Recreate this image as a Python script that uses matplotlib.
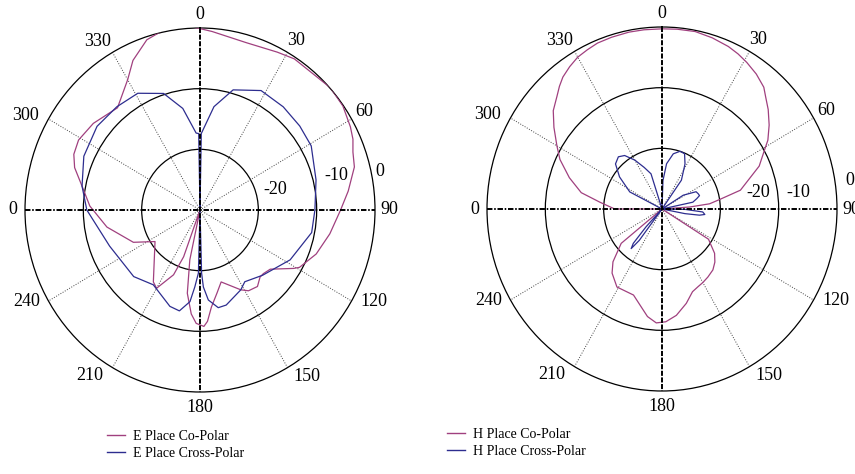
import numpy as np
import matplotlib
matplotlib.use("Agg")
import matplotlib.pyplot as plt
from matplotlib.lines import Line2D

SERIF = ["Liberation Serif", "DejaVu Serif"]
CO_COLOR = "#a0407f"
CROSS_COLOR = "#2d2d8f"

# E plane, co-polar (deg, dB)
e_co_deg = [0, 4, 16, 27, 33, 48, 55, 62, 66, 70, 75, 83, 90, 100, 110, 119, 121,
            129, 134, 137, 142, 148, 152, 163, 168, 173, 176, 178, 182, 185, 189,
            192, 195, 200, 203, 210, 214, 236, 245, 260, 272, 281, 288, 293, 299,
            308, 320, 323, 330, 335, 342, 348, 356, 360]
e_co_db = [-0.1, -0.5, -1.3, -0.8, -0.3, 0.1, -0.1, -0.8, -1.3, -2.1, -2.6, -4.4, -5.9,
           -7.4, -8.8, -10.5, -11.3, -14.5, -14.9, -14.9, -14.0, -14.3, -15.1, -17.6,
           -16.0, -13.9, -11.6, -10.8, -11.3, -12.8, -16.1, -21.6, -30.0, -21.8, -18.4,
           -15.1, -15.7, -20.7, -17.4, -13.8, -11.1, -9.4, -7.4, -6.5, -6.2, -6.8, -8.0,
           -7.3, -5.2, -2.8, -0.5, 0.3, 0.4, -0.1]

# E plane, cross-polar
e_x_deg = [0, 1, 8, 16, 28, 40, 51, 61, 76, 90, 101, 118, 135, 147, 152, 164, 169,
           174.5, 177.4, 178.5, 180, 181.5, 184, 186.5, 192, 198, 213, 226, 249, 270,
           281, 294, 308, 320, 331, 342, 350, 357, 359, 360]
e_x_db = [-30.0, -17.4, -12.8, -9.4, -7.7, -7.8, -8.0, -8.2, -9.5, -10.3, -10.5, -12.5,
          -14.8, -15.9, -15.1, -13.7, -13.6, -15.1, -17.3, -19.6, -30.0, -19.6, -17.3,
          -14.8, -13.0, -13.3, -15.3, -14.2, -13.4, -10.6, -9.4, -8.2, -7.6, -7.8, -8.0,
          -9.8, -13.0, -17.3, -17.4, -30.0]

# H plane, co-polar
h_co_deg = [0, 5, 11, 17, 23, 27, 31, 36, 41, 44, 48, 53, 58, 61, 67, 77, 81, 84, 86,
            88, 120, 122, 129, 134, 139, 145, 150, 154, 159, 165, 172, 178, 183, 188,
            199, 211, 219, 224, 231, 233, 268, 270, 276, 281, 288, 295, 300, 306, 311,
            316, 319, 322, 326, 330, 334, 338, 343, 349, 354, 360]
h_co_db = [-0.3, -0.25, -0.2, -0.5, -0.9, -1.3, -1.8, -2.5, -3.4, -4.4, -5.5, -7.0,
           -8.6, -9.9, -11.9, -16.2, -20.0, -21.8, -25.2, -30.0, -30.0, -20.6, -18.4,
           -17.4, -16.7, -16.3, -16.0, -15.8, -15.4, -13.9, -12.3, -11.4, -11.2, -12.1,
           -15.0, -15.0, -16.4, -17.9, -21.0, -30.0, -30.0, -21.9, -19.3, -15.9, -13.3,
           -10.7, -9.2, -7.1, -5.3, -4.1, -3.2, -2.4, -1.7, -1.1, -0.8, -0.5, -0.4,
           -0.3, -0.3, -0.3]

# H plane, cross-polar
h_x_deg = [0, 2, 6, 12, 18, 23, 28, 35, 40, 55, 58, 64, 68, 71, 74, 78, 80, 89, 91, 94,
           97, 99, 101, 104, 214, 217, 219, 221, 223, 225, 290, 297, 306, 313, 319, 324,
           330, 336, 342, 346, 360]
h_x_db = [-30.0, -25.3, -22.5, -20.7, -20.0, -20.1, -21.6, -24.2, -30.0, -30.0, -25.7,
          -23.5, -23.3, -23.2, -23.8, -24.6, -30.0, -30.0, -26.0, -23.0, -22.6, -23.5,
          -26.0, -30.0, -30.0, -23.5, -21.6, -22.5, -26.0, -30.0, -30.0, -23.8, -21.0,
          -19.1, -18.6, -19.1, -20.7, -22.5, -23.9, -30.0, -30.0]

angle_ticks = [0, 30, 60, 90, 120, 150, 180, 210, 240, 270, 300, 330]
angle_labels = ["0", "30", "60", "90", "120", "150", "180", "210", "240", "0", "300", "330"]
ring_levels = [-20, -10]
r_min, r_max = -30, 0

# label placement around the rim: angle nudge (deg) and radius as a fraction of the rim
label_nudge = [0, 0.5, 0, 0, -3.2, -3.8, 0, 4.6, 3.1, 0, -2.5, -2.2]
label_rim = [1.075, 1.078, 1.085, 1.082, 1.112, 1.10, 1.084, 1.108, 1.11, 1.07, 1.123, 1.095]

# where the ring values are written: (deg, dB) for "-20", "-10", "0"
e_ring_text = [(75.6, -16.7), (76.1, -6.0), (78.5, 1.5)]
h_ring_text = [(80.6, -13.3), (83.3, -6.5), (81.7, 2.6)]
ring_text = ["-20", "-10", "0"]


def pattern_axes(fig, rect, ring_pos):
    ax = fig.add_axes(rect, projection="polar")
    ax.set_theta_zero_location("N")
    ax.set_theta_direction(-1)
    ax.set_rlim(r_min, r_max)
    ax.set_aspect("auto")
    ax.set_xticks([])
    ax.set_rgrids(ring_levels, labels=["", ""])
    ax.yaxis.grid(True, color="black", lw=0.9, ls="-")
    ax.spines["polar"].set_color("black")
    ax.spines["polar"].set_linewidth(0.9)
    ax.patch.set_alpha(0)

    # dotted spokes every 30 deg
    for a in angle_ticks:
        if a % 90 == 0:
            continue
        t = np.deg2rad(a)
        ax.plot([t, t], [r_min, r_max], color="#444444", lw=0.7,
                ls=(0, (1, 1.6)), zorder=2)

    # bold 0-180 and 90-270 axes
    ax.plot(np.deg2rad([0, 0, 180]), [r_max, r_min, r_max], color="black",
            lw=1.4, ls=(0, (2.6, 0.8)), zorder=5)
    ax.plot(np.deg2rad([270, 270, 90]), [r_max, r_min, r_max], color="black",
            lw=1.4, ls=(0, (2.8, 0.9, 0.8, 0.9)), zorder=5)

    span = r_max - r_min
    for a, lbl, da, k in zip(angle_ticks, angle_labels, label_nudge, label_rim):
        ax.text(np.deg2rad(a + da), r_min + k * span, lbl, ha="center", va="center",
                fontsize=13, family=SERIF, clip_on=False)

    for (a, r), lbl in zip(ring_pos, ring_text):
        ax.text(np.deg2rad(a), r, lbl, ha="center", va="center",
                fontsize=13, family=SERIF, clip_on=False, zorder=6)
    return ax


fig = plt.figure(figsize=(8.55, 4.74), dpi=100)

ax_e = pattern_axes(fig, [25 / 855, 82 / 474, 350 / 855, 364 / 474], e_ring_text)
ax_e.plot(np.deg2rad(e_co_deg), e_co_db, color=CO_COLOR, lw=0.9, zorder=3)
ax_e.plot(np.deg2rad(e_x_deg), e_x_db, color=CROSS_COLOR, lw=0.9, zorder=3)

ax_h = pattern_axes(fig, [487 / 855, 83 / 474, 350 / 855, 364 / 474], h_ring_text)
ax_h.plot(np.deg2rad(h_co_deg), h_co_db, color=CO_COLOR, lw=0.9, zorder=3)
ax_h.plot(np.deg2rad(h_x_deg), h_x_db, color=CROSS_COLOR, lw=0.9, zorder=3)


def legend_at(x, y, names):
    handles = [Line2D([], [], color=CO_COLOR, lw=1.0),
               Line2D([], [], color=CROSS_COLOR, lw=1.0)]
    fig.legend(handles, names, loc="upper left", bbox_to_anchor=(x / 855, 1 - y / 474),
               frameon=False, prop={"family": SERIF, "size": 10}, handlelength=1.3,
               handletextpad=0.6, borderpad=0, borderaxespad=0, labelspacing=0.28)


legend_at(107, 430, ["E Place Co-Polar", "E Place Cross-Polar"])
legend_at(447, 428, ["H Place Co-Polar", "H Place Cross-Polar"])

fig.savefig("out.png", dpi=100)
